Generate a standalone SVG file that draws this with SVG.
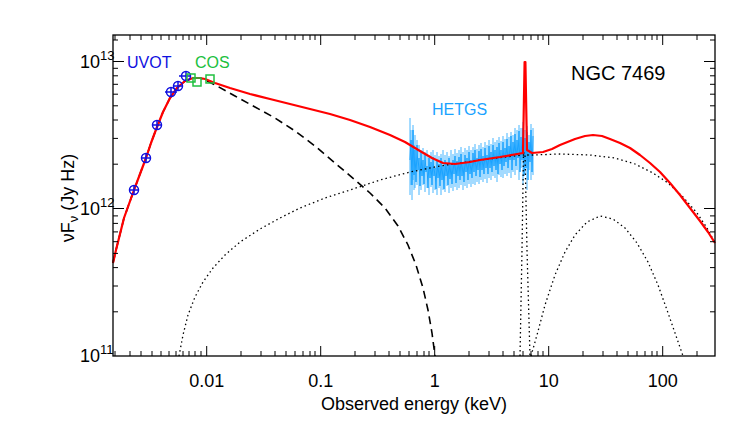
<svg xmlns="http://www.w3.org/2000/svg" width="750" height="429" viewBox="0 0 750 429">
<style>
text{font-family:"Liberation Sans",Arial,sans-serif}
.ax{stroke:#000;stroke-width:1.3;fill:none}
.tk{stroke:#000;stroke-width:1;fill:none}
.red{stroke:#ff0000;stroke-width:2.2;fill:none;stroke-linejoin:round}
.dash{stroke:#000;stroke-width:1.6;fill:none;stroke-dasharray:8 5}
.dot{stroke:#000;stroke-width:1.3;fill:none;stroke-dasharray:1.5 3}
.uv{stroke:#1010e0;stroke-width:1.5;fill:none}
.cos{stroke:#20c040;stroke-width:1.5;fill:none}
.tb{fill:#1010e0}.tg{fill:#20c040}.th{fill:#1aa3ff}
</style>
<rect width="750" height="429" fill="#fff"/>
<g id="hetgs" stroke="#1aa3ff" stroke-width="0.8" fill="none">
<path d="M410 118V195M411 130V185M412 140V200M413 125V180M414 145V190M415 135V188M417 140V185M419 145V195M421 150V190M423 148V185M425 152V192M427 150V188M429 155V195M431 152V187M433 150V193M435 155V190M437 152V195M439 156V188M441 154V195M443 150V190M445 155V192M447 152V186M449 156V193M451 150V188M453 154V191M455 149V187M457 153V190M459 150V188M461 147V185M463 152V190M465 148V186M467 150V188M469 146V184M471 150V187M473 147V184M475 144V185M477 149V182M479 145V184M481 143V180M483 147V182M485 142V179M487 145V183M489 140V178M491 144V180M493 138V176M495 142V178M497 140V182M499 137V175M501 141V177M503 136V178M505 139V174M507 133V176M509 137V173M511 132V178M513 135V172M515 128V175M517 130V170M519 125V180M521 128V168M523 122V185M525 130V175M527 126V190M529 135V170M531 124V180M533 128V175"/>
<path stroke-width="1" d="M410 160L411 140L412 185L413 130L414 175L415 150L416 182L417 145L418 170L419 158L420 186L421 152L422 176L423 160L424 184L425 155L426 172L427 166L428 188L429 158L430 178L431 162L432 185L433 157L434 176L435 168L436 189L437 160L438 178L439 164L440 186L441 158L442 180L443 166L444 189L445 160L446 176L447 164L448 185L449 158L450 179L451 163L452 184L453 160L454 174L455 156L456 183L457 161L458 176L459 157L460 180L461 154L462 176L463 162L464 182L465 155L466 172L467 158L468 180L469 152L470 174L471 160L472 178L473 153L474 172L475 150L476 176L477 158L478 170L479 151L480 177L481 149L482 170L483 156L484 174L485 148L486 168L487 155L488 174L489 146L490 168L491 152L492 172L493 145L494 166L495 150L496 170L497 147L498 174L499 143L500 164L501 150L502 170L503 142L504 166L505 148L506 162L507 139L508 168L509 146L510 160L511 136L512 170L513 142L514 160L515 134L516 166L517 140L518 158L519 131L520 172L521 137L522 160L523 128L524 176L525 138L526 168L527 132L528 180L529 142L530 162L531 130L532 172L533 136"/>
</g>
<g id="model">
<polyline class="dot" points="179,356 183,335 188,315 195,297 203,282 213,268 225,255 240,242 260,229 280,218 300,208 325,198 350,190 380,180 410,172 440,166 480,160 523,155 533,155 560,154 590,155 615,158 635,164 653,173 668,183 683,197 697,213 707,228 715,243"/>
<polyline class="dot" points="520,356 522,250 523.5,153 525,153 527,250 530,356"/>
<polyline class="dot" points="531,356 537,335 545,305 555,275 565,252 575,235 587,222 600,216 613,219 625,228 637,243 648,262 658,285 667,310 675,333 683,356"/>
<polyline class="dash" points="113,263 116,250 120,234 124,218 129,204 134,190 140,174 146,158 151,143 157,127 163,112 170,98 177,88 185,81 193,78 200,78 205,80 217,86 235,96 255,107 275,118 295,131 315,146 335,163 355,180 370,193 385,208 398,226 408,245 416,265 423,288 428,310 432,333 435,356"/>
<polyline class="red" points="113,263 116,250 120,234 124,218 129,204 134,190 140,174 146,158 151,143 157,127 163,112 170,98 177,88 185,81 193,78 200,78 205,79 215,83 230,88 250,94 270,99 290,104 310,109 330,114 350,120 370,127 390,135 405,142 420,151 432,158 443,163 455,164 470,162 480,160 500,157 523,153 524.6,62 525.4,62 527,150 532,153 543,152 552,149 560,145 575,139 585,136 593,135 602,136 610,139 620,143 630,148 640,155 650,163 660,172 670,183 680,195 690,208 700,221 708,232 715,243"/>
</g>
<g id="uvot" class="uv">
<circle cx="134" cy="190" r="4.5"/><path d="M129 190h10M134 185v10"/>
<circle cx="146" cy="158" r="4.5"/><path d="M141 158h10M146 153v10"/>
<circle cx="157" cy="125" r="4.5"/><path d="M152 125h10M157 120v10"/>
<circle cx="171" cy="92" r="4.5"/><path d="M165 92h12M171 87v10"/>
<circle cx="178" cy="86" r="4.5"/><path d="M173 86h10M178 81v10"/>
<circle cx="186" cy="76" r="4.5"/><path d="M179 76h12M186 71v10"/>
</g>
<g id="cos" class="cos">
<rect x="187" y="74" width="8" height="8"/>
<rect x="193" y="78" width="8" height="8"/>
<rect x="206" y="75" width="8" height="8"/>
</g>
<g id="axes">
<rect class="ax" x="113" y="35" width="602" height="321"/>
<path class="tk" d="M206.7 356v-10M320.7 356v-10M434.7 356v-10M548.7 356v-10M662.7 356v-10M206.7 35v10M320.7 35v10M434.7 35v10M548.7 35v10M662.7 35v10"/>
<path class="tk" d="M115 356v-5M130 356v-5M141 356v-5M152 356v-5M161 356v-5M169 356v-5M176 356v-5M183 356v-5M189 356v-5M195 356v-5M201 356v-5M241 356v-5M261 356v-5M275 356v-5M286 356v-5M295 356v-5M303 356v-5M310 356v-5M315 356v-5M355 356v-5M375 356v-5M389 356v-5M400 356v-5M409 356v-5M417 356v-5M424 356v-5M429 356v-5M469 356v-5M489 356v-5M503 356v-5M514 356v-5M523 356v-5M531 356v-5M538 356v-5M543 356v-5M583 356v-5M603 356v-5M617 356v-5M628 356v-5M637 356v-5M645 356v-5M652 356v-5M657 356v-5M697 356v-5M115 35v5M130 35v5M141 35v5M152 35v5M161 35v5M169 35v5M176 35v5M183 35v5M189 35v5M195 35v5M201 35v5M241 35v5M261 35v5M275 35v5M286 35v5M295 35v5M303 35v5M310 35v5M315 35v5M355 35v5M375 35v5M389 35v5M400 35v5M409 35v5M417 35v5M424 35v5M429 35v5M469 35v5M489 35v5M503 35v5M514 35v5M523 35v5M531 35v5M538 35v5M543 35v5M583 35v5M603 35v5M617 35v5M628 35v5M637 35v5M645 35v5M652 35v5M657 35v5M697 35v5"/>
<path class="tk" d="M113 61.5h11M113 208.5h11M715 61.5h-11M715 208.5h-11"/>
<path class="tk" d="M113 311.8h5M113 286h5M113 267.6h5M113 253.4h5M113 241.7h5M113 231.9h5M113 223.4h5M113 215.9h5M113 164.2h5M113 138.4h5M113 120h5M113 105.8h5M113 94.2h5M113 84.3h5M113 75.8h5M113 68.3h5M113 40h5M715 311.8h-5M715 286h-5M715 267.6h-5M715 253.4h-5M715 241.7h-5M715 231.9h-5M715 223.4h-5M715 215.9h-5M715 164.2h-5M715 138.4h-5M715 120h-5M715 105.8h-5M715 94.2h-5M715 84.3h-5M715 75.8h-5M715 68.3h-5M715 40h-5"/>
</g>
<g id="labels" font-size="18">
<text x="206.7" y="387" text-anchor="middle">0.01</text>
<text x="320.7" y="387" text-anchor="middle">0.1</text>
<text x="434.7" y="387" text-anchor="middle">1</text>
<text x="548.7" y="387" text-anchor="middle">10</text>
<text x="662.7" y="387" text-anchor="middle">100</text>
<text x="414" y="410" text-anchor="middle">Observed energy (keV)</text>
<text x="80" y="68">10<tspan font-size="13" dy="-8">13</tspan></text>
<text x="80" y="215">10<tspan font-size="13" dy="-8">12</tspan></text>
<text x="80" y="362">10<tspan font-size="13" dy="-8">11</tspan></text>
<text transform="translate(74,198) rotate(-90)" text-anchor="middle">νF<tspan font-size="13" dy="4">ν</tspan><tspan dy="-4"> (Jy Hz)</tspan></text>
<text x="127" y="68" class="tb" font-size="16">UVOT</text>
<text x="195" y="68" class="tg" font-size="16">COS</text>
<text x="432" y="115" class="th" font-size="16">HETGS</text>
<text x="571" y="80" font-size="20">NGC 7469</text>
</g>
</svg>
